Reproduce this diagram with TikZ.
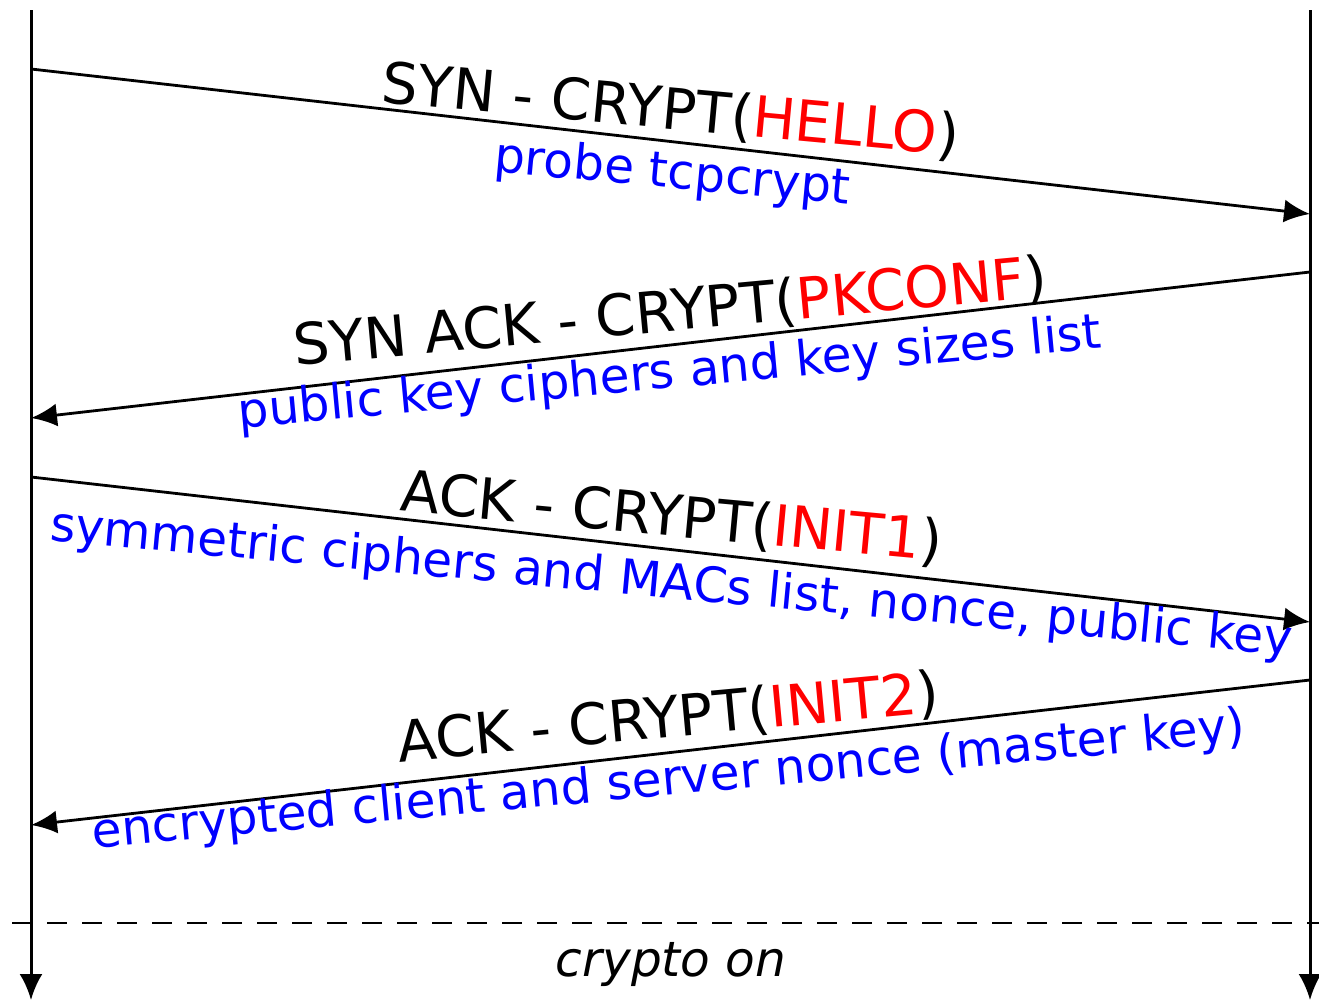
\documentclass[tikz,border=0pt]{standalone}
\usepackage{fontspec}
\setmainfont{DejaVu Sans}
\usetikzlibrary{arrows.meta}
\begin{document}
\begin{tikzpicture}[x=1pt,y=-1pt,
  life/.style={line width=3pt, -{Latex[length=26pt,width=23pt]}},
  msg/.style={line width=2.8pt, -{Latex[length=26pt,width=23pt]}},
  hdr/.style={font=\fontsize{57}{60}\selectfont, inner sep=0pt, anchor=base},
  sub/.style={font=\fontsize{48.5}{52}\selectfont, text=blue, inner sep=0pt, anchor=base},
  sep/.style={line width=2.8pt, dash pattern=on 20pt off 15pt}]
\useasboundingbox (0,0) rectangle (1319,1001);
% lifelines
\coordinate (LT) at (31,10);
\coordinate (LB) at (31,1000);
\coordinate (RT) at (1310,10);
\coordinate (RB) at (1310,1000);
\draw[life] (LT) -- (LB);
\draw[life] (RT) -- (RB);
% message endpoints
\coordinate (a1) at (31,69);   \coordinate (b1) at (1310,214);
\coordinate (a2) at (1310,272);\coordinate (b2) at (31,418);
\coordinate (a3) at (31,477);  \coordinate (b3) at (1310,622);
\coordinate (a4) at (1310,680);\coordinate (b4) at (31,825);
\draw[msg] (a1) -- (b1);
\draw[msg] (a2) -- (b2);
\draw[msg] (a3) -- (b3);
\draw[msg] (a4) -- (b4);
% labels
\node[hdr, rotate=-5.3] (t1) at (669,129) {SYN - CRYPT(\textcolor{red}{HELLO})};
\node[sub, rotate=-5.3] (s1) at (671,188) {probe tcpcrypt};
\node[hdr, rotate=5.3] (t2) at (672,331) {SYN ACK - CRYPT(\textcolor{red}{PKCONF})};
\node[sub, rotate=5.3] (s2) at (671,388) {public key ciphers and key sizes list};
\node[hdr, rotate=-5.3] (t3) at (670,536) {ACK - CRYPT(\textcolor{red}{INIT1})};
\node[sub, rotate=-5.3] (s3) at (670,598) {symmetric ciphers and MACs list, nonce, public key};
\node[hdr, rotate=5.3] (t4) at (670,737) {ACK - CRYPT(\textcolor{red}{INIT2})};
\node[sub, rotate=5.3] (s4) at (670,795) {encrypted client and server nonce (master key)};
% crypto on
\coordinate (dl) at (12,923);
\coordinate (dr) at (1319,923);
\draw[sep] (dl) -- (dr);
\node[font=\fontsize{48.5}{52}\selectfont\itshape, inner sep=0pt, anchor=base] (con) at (671,976) {crypto on};
\end{tikzpicture}
\end{document}
